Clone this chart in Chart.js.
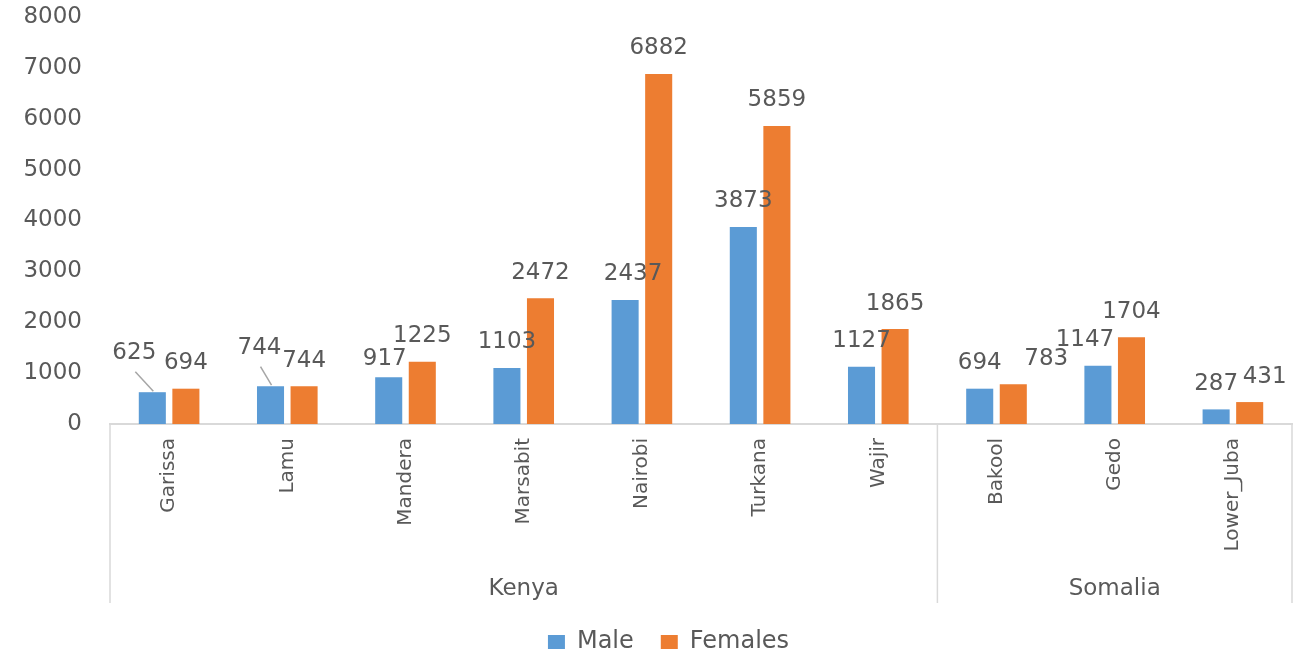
<!DOCTYPE html>
<html>
<head>
<meta charset="utf-8">
<script src="https://cdn.jsdelivr.net/npm/chart.js@4.4.1/dist/chart.umd.min.js"></script>
<style>
  html, body { margin: 0; padding: 0; background: #ffffff; }
  #wrap { width: 1299px; height: 654px; position: relative; }
</style>
</head>
<body>
<div id="wrap"><canvas id="c" width="1299" height="654"></canvas></div>
<script>
// ---- data ----
const categories = ['Garissa', 'Lamu', 'Mandera', 'Marsabit', 'Nairobi', 'Turkana', 'Wajir', 'Bakool', 'Gedo', 'Lower_Juba'];
const groupNames = ['Kenya', 'Somalia'];
const groupSizes = [7, 3];
const maleValues = [625, 744, 917, 1103, 2437, 3873, 1127, 694, 1147, 287];
const femaleValues = [694, 744, 1225, 2472, 6882, 5859, 1865, 783, 1704, 431];
const seriesNames = ['Male', 'Females'];
const yTicks = [0, 1000, 2000, 3000, 4000, 5000, 6000, 7000, 8000];

// ---- styling ----
const FONT = 'DejaVu Sans';
const TEXT = '#595959';
const AXIS = '#d9d9d9';
// label nudges [dx, dy, leaderLine] per dataset index / point index
const labelNudges = {
  0: { 0: [-18, -14, true], 1: [-11, -13, true], 2: [-4, 7], 4: [8, 0], 8: [-13, 0] },
  1: { 7: [33, 0], 9: [15, 0] }
};

const valueLabels = {
  id: 'valueLabels',
  afterDatasetsDraw(chart) {
    const ctx = chart.ctx;
    ctx.save();
    ctx.font = '23px "' + FONT + '"';
    ctx.fillStyle = TEXT;
    ctx.textAlign = 'center';
    ctx.textBaseline = 'middle';
    chart.data.datasets.forEach((ds, di) => {
      const meta = chart.getDatasetMeta(di);
      meta.data.forEach((bar, i) => {
        const n = (labelNudges[di] && labelNudges[di][i]) || [0, 0];
        const lx = bar.x + n[0];
        const ly = bar.y - 25.5 + n[1];
        if (n[2]) {
          ctx.strokeStyle = '#a6a6a6';
          ctx.lineWidth = 1.5;
          ctx.beginPath();
          ctx.moveTo(lx + 1, ly + 19);
          ctx.lineTo(bar.x + 1, bar.y - 1);
          ctx.stroke();
        }
        ctx.fillText(String(ds.data[i]), lx, ly);
      });
    });
    ctx.restore();
  }
};

const groupAxis = {
  id: 'groupAxis',
  afterLayout(chart) {
    // centre the legend the way the reference does
    if (chart.legend) { chart.legend.left = 45; }
  },
  afterDraw(chart) {
    const ctx = chart.ctx;
    const xs = chart.scales.x;
    const area = chart.chartArea;
    const yTop = area.bottom;
    const yBot = area.bottom + 179;
    const half = xs.getPixelForValue(1) - xs.getPixelForValue(0);
    ctx.save();
    ctx.strokeStyle = AXIS;
    ctx.lineWidth = 1.5;
    let start = 0;
    const bounds = [area.left];
    groupSizes.forEach(sz => {
      start += sz;
      const edge = start >= categories.length ? area.right : xs.getPixelForValue(start - 1) + half / 2;
      bounds.push(edge);
    });
    bounds.forEach(x => {
      ctx.beginPath();
      ctx.moveTo(x, yTop);
      ctx.lineTo(x, yBot);
      ctx.stroke();
    });
    ctx.fillStyle = TEXT;
    ctx.font = '23px "' + FONT + '"';
    ctx.textAlign = 'center';
    ctx.textBaseline = 'middle';
    groupNames.forEach((g, k) => {
      ctx.fillText(g, (bounds[k] + bounds[k + 1]) / 2, area.bottom + 165);
    });
    ctx.restore();
  }
};

new Chart(document.getElementById('c'), {
  type: 'bar',
  data: {
    labels: categories,
    datasets: [
      { label: seriesNames[0], data: maleValues, backgroundColor: '#5B9BD5', barPercentage: 0.806, categoryPercentage: 0.568 },
      { label: seriesNames[1], data: femaleValues, backgroundColor: '#ED7D31', barPercentage: 0.806, categoryPercentage: 0.568 }
    ]
  },
  options: {
    responsive: false,
    animation: false,
    devicePixelRatio: 1,
    layout: { padding: { left: 0, right: 7, top: 17, bottom: -10 } },
    plugins: {
      legend: {
        position: 'bottom',
        labels: {
          font: { family: FONT, size: 24 },
          color: TEXT,
          boxWidth: 17,
          boxHeight: 14,
          padding: 27
        }
      },
      tooltip: { enabled: false }
    },
    scales: {
      x: {
        grid: { display: false, drawTicks: false },
        border: { display: true, color: AXIS, width: 2 },
        ticks: {
          autoSkip: false,
          minRotation: 90,
          maxRotation: 90,
          padding: 14,
          color: TEXT,
          font: { family: FONT, size: 20 }
        },
        afterFit(scale) { scale.height = 179; }
      },
      y: {
        min: 0,
        max: 8000,
        grid: { display: false, drawTicks: false },
        border: { display: false },
        afterBuildTicks(scale) { scale.ticks = yTicks.map(v => ({ value: v })); },
        ticks: {
          padding: 28,
          color: TEXT,
          font: { family: FONT, size: 23 },
          callback: (v) => String(v)
        },
        afterFit(scale) { scale.width = 110; scale.paddingTop = 0; scale.paddingBottom = 0; }
      }
    }
  },
  plugins: [valueLabels, groupAxis]
});
</script>
</body>
</html>
